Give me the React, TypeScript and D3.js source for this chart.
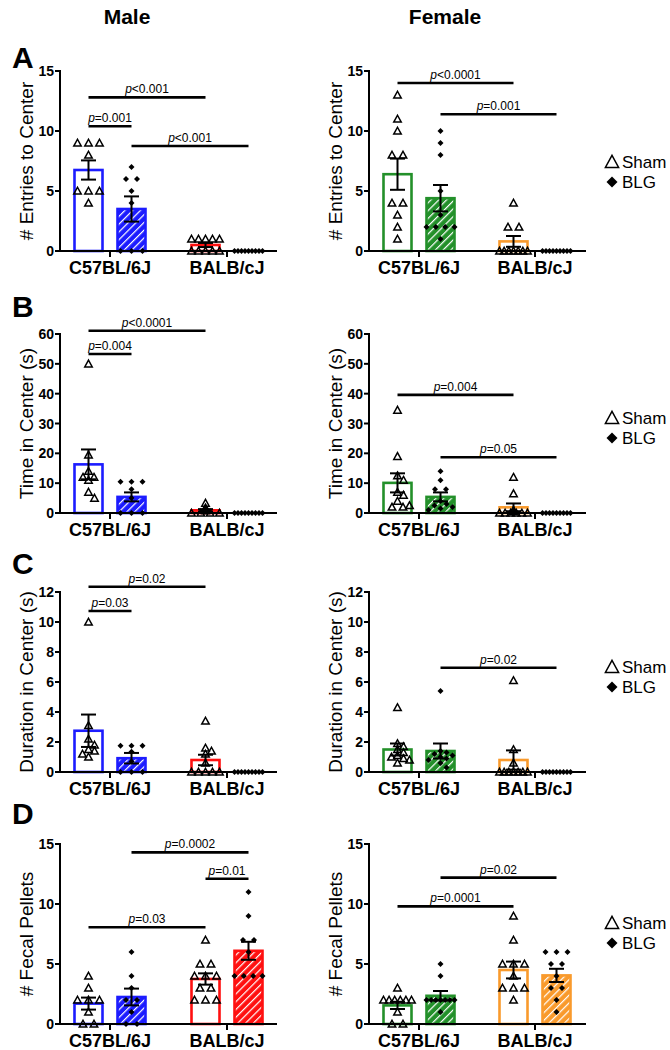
import React from "react";
import * as d3 from "d3";

const FONT = "'Liberation Sans', Arial, Helvetica, sans-serif";

// ---------- labels ----------
const sexes = ["Male", "Female"];
const strains = ["C57BL/6J", "BALB/cJ"];
const legendLabels = ["Sham", "BLG"];
const panelLetters = ["A", "B", "C", "D"];
const yLabels = ["# Entries to Center", "Time in Center (s)", "Duration in Center (s)", "# Fecal Pellets"];
const yMax = [15, 60, 12, 15];
const yTicks = [
  [0, 5, 10, 15],
  [0, 10, 20, 30, 40, 50, 60],
  [0, 2, 4, 6, 8, 10, 12],
  [0, 5, 10, 15],
];

// bar order: C57 Sham, C57 BLG, BALB Sham, BALB BLG
const maleColors = ["#1c1cff", "#1c1cff", "#ff1010", "#ff1010"];
const femaleColors = ["#23902a", "#23902a", "#f99a2c", "#f99a2c"];

// ---------- A: entries ----------
const entriesMaleMean = [6.75, 3.5, 0.5, 0];
const entriesMaleSem = [0.8, 1.05, 0.17, 0];
const entriesMalePts = [
  [9, 9, 9, 8, 5, 5, 5, 4],
  [7, 6, 6, 5, 4, 0, 0, 0],
  [1, 1, 1, 1, 1, 0, 0, 0, 0, 0],
  [0, 0, 0, 0, 0, 0, 0, 0, 0],
];
const entriesFemaleMean = [6.4, 4.4, 0.8, 0];
const entriesFemaleSem = [1.3, 1.1, 0.45, 0];
const entriesFemalePts = [
  [13, 11, 10, 8, 8, 4, 4, 3, 2, 1],
  [10, 9, 8, 5, 3, 2, 2, 2, 2, 1],
  [4, 2, 2, 0, 0, 0, 0, 0, 0, 0],
  [0, 0, 0, 0, 0, 0, 0, 0, 0],
];
const entriesMaleP = [
  { from: 0, to: 2, y: 12.8, label: "<0.001" },
  { from: 0, to: 1, y: 10.4, label: "=0.001" },
  { from: 1, to: 3, y: 8.75, label: "<0.001" },
];
const entriesFemaleP = [
  { from: 0, to: 2, y: 14.0, label: "<0.0001" },
  { from: 1, to: 3, y: 11.4, label: "=0.001" },
];

// ---------- B: time ----------
const timeMaleMean = [16.3, 5.4, 0.9, 0];
const timeMaleSem = [5.0, 1.5, 0.4, 0];
const timeMalePts = [
  [50, 19.5, 14, 12, 12, 11, 7, 5],
  [10.5, 10.5, 10.5, 8, 5, 0, 0, 0],
  [3.3, 1.7, 1.5, 1.2, 1, 0.8, 0, 0, 0, 0],
  [0, 0, 0, 0, 0, 0, 0, 0, 0],
];
const timeFemaleMean = [10.1, 5.4, 1.9, 0];
const timeFemaleSem = [3.2, 1.5, 1.3, 0];
const timeFemalePts = [
  [34.5, 19, 12.5, 11, 7, 6, 4, 2.5, 2, 2],
  [14, 11, 8, 8, 4, 3, 2.5, 2, 1.5, 1],
  [12, 6.5, 1, 0.5, 0, 0, 0, 0, 0, 0],
  [0, 0, 0, 0, 0, 0, 0, 0, 0],
];
const timeMaleP = [
  { from: 0, to: 2, y: 61.1, label: "<0.0001" },
  { from: 0, to: 1, y: 53.3, label: "=0.004" },
];
const timeFemaleP = [
  { from: 0, to: 2, y: 39.6, label: "=0.004" },
  { from: 1, to: 3, y: 18.7, label: "=0.05" },
];

// ---------- C: duration ----------
const durMaleMean = [2.75, 0.92, 0.8, 0];
const durMaleSem = [1.08, 0.35, 0.35, 0];
const durMalePts = [
  [10, 3.1, 2.2, 1.8, 1.5, 1.4, 1.2, 1.0],
  [1.75, 1.75, 1.75, 1.35, 0.7, 0, 0, 0],
  [3.4, 1.6, 1.4, 1.2, 0.6, 0, 0, 0, 0, 0],
  [0, 0, 0, 0, 0, 0, 0, 0, 0],
];
const durFemaleMean = [1.5, 1.4, 0.8, 0];
const durFemaleSem = [0.4, 0.5, 0.64, 0];
const durFemalePts = [
  [4.3, 1.9, 1.7, 1.5, 1.3, 1.1, 1.0, 0.9, 0.8, 0.6],
  [5.4, 1.4, 1.3, 1.2, 1.1, 1.0, 0.9, 0.8, 0.6, 0.3],
  [6.1, 1.5, 0.6, 0, 0, 0, 0, 0, 0, 0],
  [0, 0, 0, 0, 0, 0, 0, 0, 0],
];
const durMaleP = [
  { from: 0, to: 2, y: 12.35, label: "=0.02" },
  { from: 0, to: 1, y: 10.73, label: "=0.03" },
];
const durFemaleP = [{ from: 1, to: 3, y: 6.95, label: "=0.02" }];

// ---------- D: fecal pellets ----------
const pelMaleMean = [1.7, 2.25, 3.75, 6.1];
const pelMaleSem = [0.5, 0.7, 0.47, 0.75];
const pelMalePts = [
  [4, 3, 2, 2, 2, 1, 0, 0],
  [6, 4, 3, 2, 2, 1, 0, 0],
  [7, 5, 5, 4, 4, 4, 3, 3, 2, 2, 2],
  [11, 9, 7, 7, 6, 4, 4, 4, 4],
];
const pelFemaleMean = [1.55, 2.35, 4.5, 4.05];
const pelFemaleSem = [0.3, 0.4, 0.7, 0.55];
const pelFemalePts = [
  [3, 2, 2, 2, 2, 2, 2, 1, 0, 0],
  [5, 4, 2, 2, 2, 2, 2, 2, 2, 1],
  [9, 7, 5, 5, 5, 4, 3, 3, 3, 2],
  [6, 6, 6, 5, 5, 4, 3, 3, 2, 1],
];
const pelMaleP = [
  { from: 1, to: 3, y: 14.3, label: "=0.0002" },
  { from: 2, to: 3, y: 12.1, label: "=0.01" },
  { from: 0, to: 2, y: 8.06, label: "=0.03" },
];
const pelFemaleP = [
  { from: 1, to: 3, y: 12.2, label: "=0.02" },
  { from: 0, to: 2, y: 9.8, label: "=0.0001" },
];

const rows = [
  { male: { mean: entriesMaleMean, sem: entriesMaleSem, pts: entriesMalePts, p: entriesMaleP },
    female: { mean: entriesFemaleMean, sem: entriesFemaleSem, pts: entriesFemalePts, p: entriesFemaleP } },
  { male: { mean: timeMaleMean, sem: timeMaleSem, pts: timeMalePts, p: timeMaleP },
    female: { mean: timeFemaleMean, sem: timeFemaleSem, pts: timeFemalePts, p: timeFemaleP } },
  { male: { mean: durMaleMean, sem: durMaleSem, pts: durMalePts, p: durMaleP },
    female: { mean: durFemaleMean, sem: durFemaleSem, pts: durFemalePts, p: durFemaleP } },
  { male: { mean: pelMaleMean, sem: pelMaleSem, pts: pelMalePts, p: pelMaleP },
    female: { mean: pelFemaleMean, sem: pelFemaleSem, pts: pelFemalePts, p: pelFemaleP } },
];

// ---------- layout ----------
const W = 670;
const H = 1050;
const rowY0 = [251, 513, 772, 1024];
const rowTop = [71, 334, 592, 844];
const letterY = [68, 317, 574, 824];
const legendY = [162, 418, 667, 923];
const colAxisX = [60, 369];
const colLabelX = [33, 342];
const groupOffsets = [[50, 167], [50, 166]];
const titleX = [127, 445];
const axisLen = 217;
const barW = 28;
const barShift = 21.5;

function layoutPoints(values: number[], cx: number, y: (v: number) => number) {
  const groups = new Map<number, number[]>();
  values.forEach((v, i) => {
    const g = groups.get(v) || [];
    g.push(i);
    groups.set(v, g);
  });
  const placed: { x: number; y: number }[] = new Array(values.length);
  const done: { x: number; y: number }[] = [];
  groups.forEach((idx, v) => {
    if (idx.length > 1) {
      const n = idx.length;
      const sp = Math.min(11, 28 / (n - 1));
      idx.forEach((i, k) => {
        const p = { x: cx + (k - (n - 1) / 2) * sp, y: y(v) };
        placed[i] = p;
        done.push(p);
      });
    }
  });
  groups.forEach((idx, v) => {
    if (idx.length === 1) {
      const yy = y(v);
      const cands = [0, 6, -6, 12, -12];
      let best = cands[0];
      for (const c of cands) {
        const ok = done.every((p) => Math.hypot(p.x - (cx + c), p.y - yy) >= 6);
        if (ok) { best = c; break; }
      }
      const p = { x: cx + best, y: yy };
      placed[idx[0]] = p;
      done.push(p);
    }
  });
  return placed;
}

const triPath = (x: number, y: number, s: number) =>
  `M${x},${y - s * 0.55}L${x + s * 0.55},${y + s * 0.45}L${x - s * 0.55},${y + s * 0.45}Z`;
const diaPath = (x: number, y: number, s: number) =>
  `M${x},${y - s}L${x + s},${y}L${x},${y + s}L${x - s},${y}Z`;

function Panel({ row, col }: { row: number; col: number }) {
  const d = col === 0 ? rows[row].male : rows[row].female;
  const colors = col === 0 ? maleColors : femaleColors;
  const ax = colAxisX[col];
  const y = d3.scaleLinear().domain([0, yMax[row]]).range([rowY0[row], rowTop[row]]);
  const groupX = d3.scalePoint<string>().domain(strains).range([ax + groupOffsets[col][0], ax + groupOffsets[col][1]]);
  const barCx = (i: number) => (groupX(strains[Math.floor(i / 2)]) as number) + (i % 2 === 0 ? -barShift : barShift);
  const y0 = rowY0[row];
  const patId = (i: number) => `hatch-${row}-${col}-${i}`;
  return (
    <g>
      <defs>
        {[1, 3].map((i) => (
          <pattern key={i} id={patId(i)} patternUnits="userSpaceOnUse" width={5.5} height={5.5}
            patternTransform="rotate(45)">
            <rect width={5.5} height={5.5} fill={colors[i]} />
            <line x1={0} y1={0} x2={0} y2={5.5} stroke="#fff" strokeWidth={2.4} />
          </pattern>
        ))}
      </defs>
      {d.mean.map((m, i) =>
        m > 0 ? (
          <rect key={"b" + i} x={barCx(i) - barW / 2} y={y(m)} width={barW} height={y0 - y(m)}
            fill={i % 2 === 0 ? "#fff" : `url(#${patId(i)})`} stroke={colors[i]} strokeWidth={2.6} />
        ) : null
      )}
      {d.pts.map((vals, i) => {
        const pos = layoutPoints(vals, barCx(i), (v) => y(v));
        return pos.map((p, k) =>
          i % 2 === 0 ? (
            <path key={`p${i}-${k}`} d={triPath(p.x, p.y, 6.8)} fill="none" stroke="#000" strokeWidth={1.5} />
          ) : (
            <path key={`p${i}-${k}`} d={diaPath(p.x, p.y, 3)} fill="#000" />
          )
        );
      })}
      {d.mean.map((m, i) => {
        if (d.sem[i] <= 0) return null;
        const cx = barCx(i);
        const yt = y(m + d.sem[i]);
        const yb = y(Math.max(0, m - d.sem[i]));
        return (
          <g key={"e" + i} stroke="#000" strokeWidth={2}>
            <line x1={cx} x2={cx} y1={yt} y2={yb} />
            <line x1={cx - 7.5} x2={cx + 7.5} y1={yt} y2={yt} />
            <line x1={cx - 7.5} x2={cx + 7.5} y1={yb} y2={yb} />
          </g>
        );
      })}
      <line x1={ax} x2={ax} y1={rowTop[row] - 1} y2={y0} stroke="#000" strokeWidth={2} />
      <line x1={ax} x2={ax + axisLen} y1={y0} y2={y0} stroke="#000" strokeWidth={2} />
      {yTicks[row].map((t) => (
        <g key={"t" + t}>
          <line x1={ax - 5} x2={ax} y1={y(t)} y2={y(t)} stroke="#000" strokeWidth={2} />
          <text x={ax - 6} y={y(t)} dy="0.36em" textAnchor="end" fontFamily={FONT} fontWeight="bold" fontSize={14}>
            {t}
          </text>
        </g>
      ))}
      {strains.map((s) => {
        const gx = groupX(s) as number;
        return (
          <g key={s}>
            <line x1={gx} x2={gx} y1={y0} y2={y0 + 6} stroke="#000" strokeWidth={2} />
            <text x={gx} y={y0 + 23} textAnchor="middle" fontFamily={FONT} fontWeight="bold" fontSize={18}>
              {s}
            </text>
          </g>
        );
      })}
      <text transform={`translate(${colLabelX[col]},${(y0 + rowTop[row]) / 2}) rotate(-90)`} textAnchor="middle"
        fontFamily={FONT} fontSize={19}>
        {yLabels[row]}
      </text>
      {d.p.map((p, k) => {
        const x1 = barCx(p.from);
        const x2 = barCx(p.to);
        const yy = y(p.y);
        return (
          <g key={"s" + k}>
            <line x1={x1} x2={x2} y1={yy} y2={yy} stroke="#000" strokeWidth={2.6} />
            <text x={(x1 + x2) / 2} y={yy - 4} textAnchor="middle" fontFamily={FONT} fontSize={12}>
              <tspan fontStyle="italic">p</tspan>
              {p.label}
            </text>
          </g>
        );
      })}
    </g>
  );
}

export default function App() {
  return (
    <svg width={W} height={H} viewBox={`0 0 ${W} ${H}`} style={{ position: "absolute", left: 0, top: 0, background: "#fff" }}>
      <rect width={W} height={H} fill="#fff" />
      {sexes.map((s, i) => (
        <text key={s} x={titleX[i]} y={24} textAnchor="middle" fontFamily={FONT} fontWeight="bold" fontSize={21}>
          {s}
        </text>
      ))}
      {panelLetters.map((l, r) => (
        <text key={l} x={12} y={letterY[r]} fontFamily={FONT} fontWeight="bold" fontSize={30}>
          {l}
        </text>
      ))}
      {rows.map((_, r) => (
        <g key={r}>
          <Panel row={r} col={0} />
          <Panel row={r} col={1} />
          <g>
            <path d={triPath(612, legendY[r], 12)} fill="none" stroke="#000" strokeWidth={1.5} />
            <text x={622} y={legendY[r]} dy="0.36em" fontFamily={FONT} fontSize={17}>{legendLabels[0]}</text>
            <path d={diaPath(612, legendY[r] + 20, 5.5)} fill="#000" />
            <text x={622} y={legendY[r] + 20} dy="0.36em" fontFamily={FONT} fontSize={17}>{legendLabels[1]}</text>
          </g>
        </g>
      ))}
    </svg>
  );
}
